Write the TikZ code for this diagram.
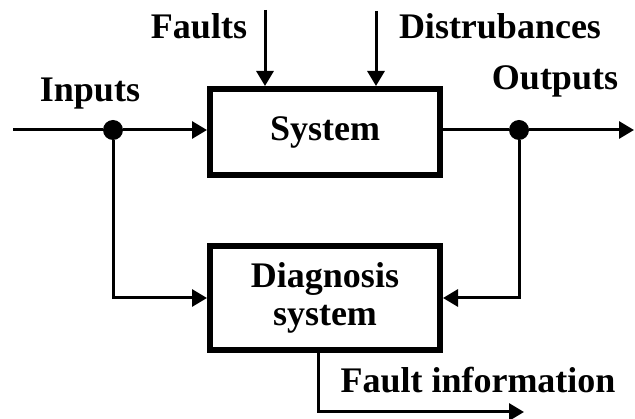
\documentclass[tikz,border=0pt]{standalone}
\usepackage{fontspec}
\setmainfont{Liberation Serif}
\usetikzlibrary{arrows.meta}

\begin{document}
\begin{tikzpicture}[x=1pt,y=-1pt,
    every node/.style={font=\fontsize{36}{38}\selectfont\bfseries},
    block/.style={draw,line width=6pt,minimum width=230pt,align=center,inner sep=0pt},
    dot/.style={circle,fill,inner sep=0pt,minimum size=20pt},
    conn/.style={line width=3pt},
    arr/.style={conn,-{Triangle[length=15pt,width=17pt]}}]
    \useasboundingbox (0,0) rectangle (635,419);
    % blocks
    \node[block,minimum height=86pt] (sys) at (325,132) {System};
    \node[block,minimum height=104pt] (diag) at (325,298) {Diagnosis\\system};
    % branch points
    \node[dot] (indot) at (113,130) {};
    \node[dot] (outdot) at (519,130) {};
    \coordinate (instart) at (13,130);
    \coordinate (outend) at (634,130);
    \coordinate (faultsrc) at (265,10);
    \coordinate (distsrc) at (376,11);
    \coordinate (infoturn) at (318,412);
    \coordinate (infoend) at (524,412);
    % labels
    \node[anchor=base] (faults) at (199,39) {Faults};
    \node[anchor=base] (dist) at (500,39) {Distrubances};
    \node[anchor=base] (inputs) at (90,102) {Inputs};
    \node[anchor=base] (outputs) at (555,90) {Outputs};
    \node[anchor=base] (info) at (478,393) {Fault information};
    % connectors
    \draw[arr] (faultsrc) -- (faultsrc |- sys.north);
    \draw[arr] (distsrc) -- (distsrc |- sys.north);
    \draw[arr] (instart) -- (indot) -- (sys.west |- indot);
    \draw[arr] (indot) |- (diag.west);
    \draw[arr] (sys.east |- outdot) -- (outdot) -- (outend);
    \draw[arr] (outdot) |- (diag.east);
    \draw[arr] (diag.south -| infoturn) -- (infoturn) -- (infoend);
\end{tikzpicture}
\end{document}
